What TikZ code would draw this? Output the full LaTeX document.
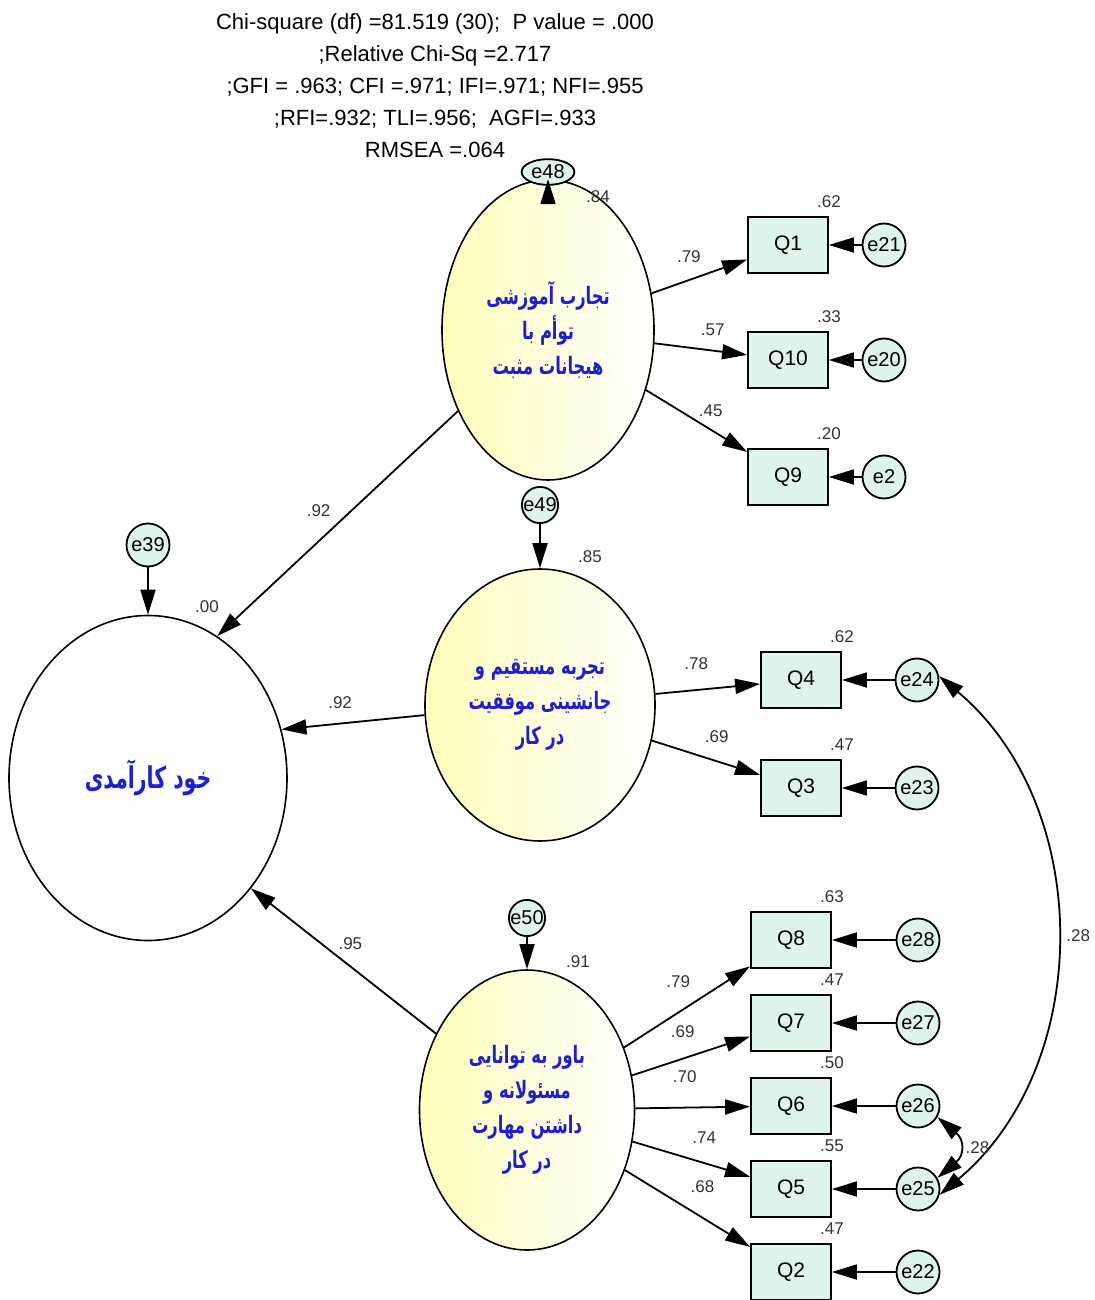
\documentclass[tikz,border=0pt]{standalone}
\usepackage{fontspec}
\setmainfont{Liberation Sans}
\newfontfamily\farsifont[Script=Arabic,FakeStretch=0.68]{DejaVu Sans}
\TeXXeTstate=1
\usetikzlibrary{positioning, arrows.meta, shapes.geometric}
\definecolor{mint}{RGB}{222,245,234}
\definecolor{paleyellow}{RGB}{255,253,185}
\definecolor{farsiblue}{RGB}{30,30,215}
\definecolor{numgray}{RGB}{50,50,50}
\newcommand{\fatxt}[1]{\beginR #1\endR}

\begin{document}
\begin{tikzpicture}[x=0.5pt,y=-0.5pt,>={Triangle[length=12.5pt,width=7.5pt]},line width=0.9pt,on grid]
\tikzstyle{factor}=[ellipse,draw,line width=0.8pt,left color=paleyellow,right color=white,text=farsiblue,align=center,inner sep=0pt,font=\farsifont\bfseries\fontsize{12}{17.5}\selectfont]
\tikzstyle{item}=[rectangle,draw,fill=mint,minimum width=40pt,minimum height=28pt,font=\fontsize{10.5}{12}\selectfont]
\tikzstyle{err}=[circle,draw,fill=mint,minimum size=21.5pt,inner sep=0pt,font=\fontsize{10}{12}\selectfont]
\tikzstyle{num}=[font=\fontsize{8.5}{10}\selectfont,text=numgray,inner sep=1pt]

\useasboundingbox (0,0) rectangle (1094,1300);

%--- fit indices ---
\node[align=center,font=\fontsize{11}{16}\selectfont] (fit) at (435,86)
  {Chi-square (df) =81.519 (30);\ \ P value = .000\\
   ;Relative Chi-Sq =2.717\\
   ;GFI = .963; CFI =.971; IFI=.971; NFI=.955\\
   ;RFI=.932; TLI=.956;\ \ AGFI=.933\\
   RMSEA =.064};

%--- latent variables ---
\node[factor,minimum width=106pt,minimum height=150pt] (F1) at (548,330)
  {\fatxt{تجارب آموزشی}\\ \fatxt{توأم با}\\ \fatxt{هیجانات مثبت}};
\node[factor,minimum width=115pt,minimum height=136pt] (F2) at (540,705)
  {\fatxt{تجربه مستقیم و}\\ \fatxt{جانشینی موفقیت}\\ \fatxt{در کار}};
\node[factor,minimum width=107.5pt,minimum height=140pt] (F3) at (527,1110)
  {\fatxt{باور به توانایی}\\ \fatxt{مسئولانه و}\\ \fatxt{داشتن مهارت}\\ \fatxt{در کار}};
\node[ellipse,draw,line width=0.8pt,minimum width=139pt,minimum height=162.5pt,text=farsiblue,
  font=\farsifont\bfseries\fontsize{15}{18}\selectfont] (C) at (148,778) {\fatxt{خود کارآمدی}};

%--- disturbances ---
\node[err,ellipse,minimum size=0pt,inner sep=1pt] (e48) [above=79pt of F1] {e48};
\node[err,minimum size=0pt] (e49) [above=100pt of F2] {e49};
\node[err,minimum size=0pt] (e50) [above=96pt of F3] {e50};
\node[err] (e39) [above=116.5pt of C] {e39};

%--- squared multiple correlations ---
\node[num] (r48) at (598,197) {.84};
\node[num] (r49) at (590,557) {.85};
\node[num] (r50) at (578,962) {.91};
\node[num] (r39) at (207,607) {.00};

%--- indicators ---
\node[item,label={[num,anchor=south,yshift=3pt]north east:.62}] (Q1) at (788,245) {Q1};
\node[item,label={[num,anchor=south,yshift=3pt]north east:.33}] (Q10) [below=57.5pt of Q1] {Q10};
\node[item,label={[num,anchor=south,yshift=3pt]north east:.20}] (Q9) [below=58.5pt of Q10] {Q9};

\node[item,label={[num,anchor=south,yshift=3pt]north east:.62}] (Q4) at (801,680) {Q4};
\node[item,label={[num,anchor=south,yshift=3pt]north east:.47}] (Q3) [below=54pt of Q4] {Q3};

\node[item,label={[num,anchor=south,yshift=3pt]north east:.63}] (Q8) at (791,940) {Q8};
\node[item,label={[num,anchor=south,yshift=3pt]north east:.47}] (Q7) [below=41.5pt of Q8] {Q7};
\node[item,label={[num,anchor=south,yshift=3pt]north east:.50}] (Q6) [below=41.5pt of Q7] {Q6};
\node[item,label={[num,anchor=south,yshift=3pt]north east:.55}] (Q5) [below=41.5pt of Q6] {Q5};
\node[item,label={[num,anchor=south,yshift=3pt]north east:.47}] (Q2) [below=41.5pt of Q5] {Q2};

%--- measurement errors ---
\node[err] (e21) [right=48pt of Q1] {e21};
\node[err] (e20) [right=48pt of Q10] {e20};
\node[err] (e2) [right=48pt of Q9] {e2};
\node[err] (e24) [right=58pt of Q4] {e24};
\node[err] (e23) [right=58pt of Q3] {e23};
\node[err] (e28) [right=63.5pt of Q8] {e28};
\node[err] (e27) [right=63.5pt of Q7] {e27};
\node[err] (e26) [right=63.5pt of Q6] {e26};
\node[err] (e25) [right=63.5pt of Q5] {e25};
\node[err] (e22) [right=63.5pt of Q2] {e22};

%--- structural paths ---
\path[->]
  (F1.222) edge node[num,pos=.5,above left=3pt] {.92} (C.64)
  (F2.185) edge node[num,pos=.59,above=6pt] {.92} (C.20)
  (F3.140) edge node[num,pos=.55,above right=1pt] {.95} (C.-47)
  (e48) edge (F1)
  (e49) edge (F2)
  (e50) edge (F3)
  (e39) edge (C);

%--- loadings ---
\path[->]
  (F1) edge node[num,pos=.39,above=7.5pt] {.79} (Q1)
  (F1) edge node[num,pos=.63,above=6pt] {.57} (Q10)
  (F1) edge node[num,pos=.64,above=5pt] {.45} (Q9)
  (F2) edge node[num,pos=.39,above=8.5pt] {.78} (Q4)
  (F2) edge node[num,pos=.6,above=8pt] {.69} (Q3)
  (F3) edge node[num,pos=.43,above=11pt] {.79} (Q8)
  (F3) edge node[num,pos=.43,above=9pt] {.69} (Q7)
  (F3) edge node[num,pos=.43,above=11pt] {.70} (Q6)
  (F3) edge node[num,pos=.61,above=8.5pt] {.74} (Q5)
  (F3) edge node[num,pos=.62,above=11pt] {.68} (Q2);

%--- errors to indicators ---
\path[->]
  (e21) edge (Q1)
  (e20) edge (Q10)
  (e2) edge (Q9)
  (e24) edge (Q4)
  (e23) edge (Q3)
  (e28) edge (Q8)
  (e27) edge (Q7)
  (e26) edge (Q6)
  (e25) edge (Q5)
  (e22) edge (Q2);

%--- covariances ---
\path[<->]
  (e24.10) edge[out=-40,in=40,looseness=1.0] node[num,right=4pt] {.28} (e25.-15)
  (e26.-30) edge[out=-40,in=40,looseness=1.5] node[num,right=2.5pt] {.28} (e25.30);

\end{tikzpicture}
\end{document}
